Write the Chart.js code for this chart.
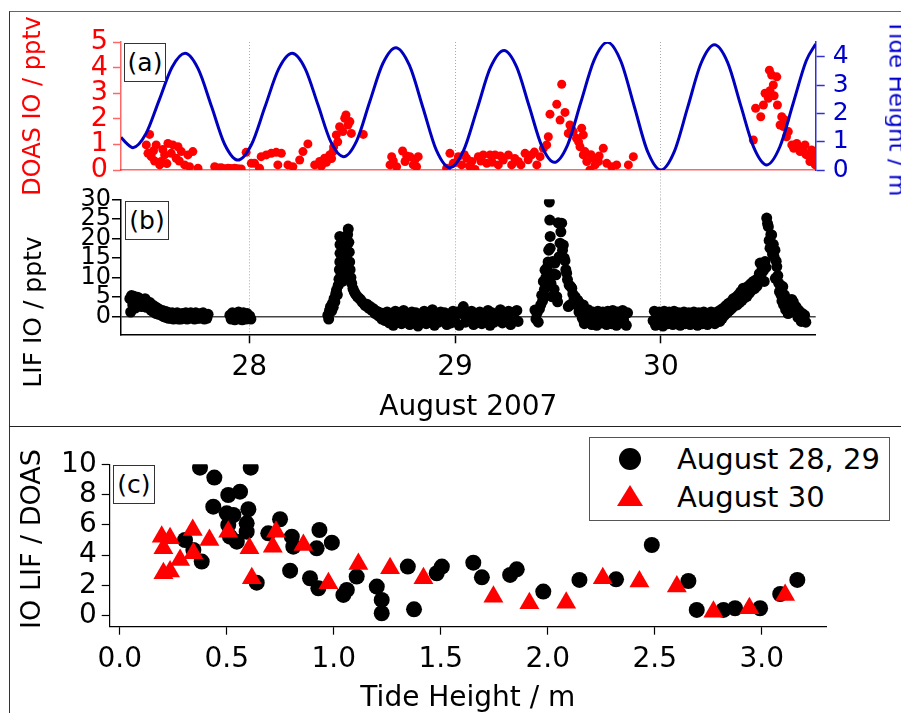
<!DOCTYPE html>
<html>
<head>
<meta charset="utf-8">
<title>IO tide</title>
<script src="https://cdn.jsdelivr.net/npm/chart.js@4.4.0/dist/chart.umd.min.js"></script>
<style>
    html, body { margin: 0; padding: 0; background: #fff; overflow: hidden; }
    #page { position: relative; width: 901px; height: 713px; overflow: hidden; font-family: "DejaVu Sans", sans-serif; }
    canvas.layer { position: absolute; left: 0; top: 0; }
    .frame { position: absolute; left: 9px; top: 11px; width: 900px; height: 710px; border-left: 1.5px solid #333; border-top: 1.5px solid #666; }
    .sep { position: absolute; left: 9px; top: 426px; width: 900px; border-top: 1.5px solid #222; }
    .tag { position: absolute; border: 1px solid #333; background: #fff; font-size: 25px; text-align: center; color: #000; }
    .axtitle { position: absolute; white-space: nowrap; line-height: 1; }
    .legend { position: absolute; border: 1px solid #555; background: #fff; }
    .legend span { position: absolute; }
    .legend .txt { font-size: 29px; line-height: 1; white-space: nowrap; color: #000; }
    .legend .dot { width: 22px; height: 22px; border-radius: 50%; background: #000; }
    .legend .tri { width: 0; height: 0; border-left: 13px solid transparent; border-right: 13px solid transparent; border-bottom: 21px solid #f00; }
</style>
</head>
<body>
<div id="page">
    <div class="frame"></div>
    <div class="sep"></div>
    <canvas id="chartA" class="layer" width="901" height="713"></canvas>
    <canvas id="chartB" class="layer" width="901" height="713"></canvas>
    <canvas id="chartC" class="layer" width="901" height="730"></canvas>

    <div class="axtitle" style="left:32px;top:106px;color:#f00;font-size:24px;transform:translate(-50%,-50%) rotate(-90deg);">DOAS IO / pptv</div>
    <div class="axtitle" style="left:897px;top:108px;color:#0000cc;font-size:23px;transform:translate(-50%,-50%) rotate(90deg);">Tide Height / m</div>
    <div class="axtitle" style="left:32px;top:312px;color:#000;font-size:25px;transform:translate(-50%,-50%) rotate(-90deg);">LIF IO / pptv</div>
    <div class="axtitle" style="left:30px;top:539px;color:#000;font-size:27px;transform:translate(-50%,-50%) rotate(-90deg);">IO LIF / DOAS</div>

    <div class="tag" style="left:124px;top:43px;width:40px;height:37px;line-height:37px;">(a)</div>
    <div class="tag" style="left:125px;top:201px;width:42px;height:37px;line-height:37px;">(b)</div>
    <div class="tag" style="left:113px;top:465px;width:40px;height:37px;line-height:37px;">(c)</div>

    <div class="legend" style="left:589px;top:437px;width:299px;height:82px;">
        <span class="dot" style="left:29px;top:10px;"></span>
        <span class="txt" style="left:87px;top:7px;">August 28, 29</span>
        <span class="tri" style="left:27px;top:47px;"></span>
        <span class="txt" style="left:87px;top:45px;">August 30</span>
    </div>
</div>

<script>
// ---- data ----
// days of August 2007 on the time axis
const dayTicks = [28, 29, 30];
const doasTicks = [0, 1, 2, 3, 4, 5];
const tideTicks = [0, 1, 2, 3, 4];
const lifTicks = [0, 5, 10, 15, 20, 25, 30];
const tideHeightTicks = [0, 0.5, 1, 1.5, 2, 2.5, 3];
const ratioTicks = [0, 2, 4, 6, 8, 10];

// tide height (m) vs day
const tidePoints = [
    [27.377, 1.16], [27.406, 0.93], [27.435, 0.79], [27.498, 1.28], [27.562, 2.46], [27.625, 3.63], [27.688, 4.12],
    [27.752, 3.57], [27.817, 2.24], [27.881, 0.90], [27.945, 0.35], [28.011, 0.90], [28.077, 2.24], [28.143, 3.57],
    [28.209, 4.12], [28.271, 3.59], [28.334, 2.30], [28.396, 1.00], [28.458, 0.47], [28.522, 1.03], [28.585, 2.40],
    [28.649, 3.76], [28.712, 4.32], [28.778, 3.70], [28.844, 2.20], [28.909, 0.70], [28.975, 0.08], [29.041, 0.68],
    [29.107, 2.15], [29.172, 3.62], [29.238, 4.22], [29.299, 3.64], [29.360, 2.25], [29.421, 0.85], [29.482, 0.27],
    [29.547, 0.89], [29.611, 2.39], [29.676, 3.89], [29.740, 4.51], [29.805, 3.85], [29.870, 2.26], [29.935, 0.66],
    [30.000, 0.00], [30.065, 0.65], [30.130, 2.21], [30.195, 3.77], [30.260, 4.42], [30.324, 3.80], [30.387, 2.30],
    [30.451, 0.80], [30.514, 0.18], [30.578, 0.82], [30.642, 2.34], [30.706, 3.86], [30.752, 4.45]
];

// DOAS IO (pptv) vs day
const doasPoints = [
    [27.500, 0.98], [27.508, 0.65], [27.516, 1.39], [27.524, 0.52], [27.535, 0.75], [27.540, 0.35], [27.548, 0.98],
    [27.565, 0.20], [27.572, 0.33], [27.580, 0.80], [27.589, 0.59], [27.600, 0.25], [27.605, 1.04], [27.621, 0.65],
    [27.629, 0.98], [27.645, 0.46], [27.654, 0.91], [27.660, 0.35], [27.670, 0.72], [27.686, 0.20], [27.702, 0.59],
    [27.710, 0.13], [27.726, 0.72], [27.751, 0.07], [27.832, 0.13], [27.850, 0.08], [27.864, 0.09], [27.880, 0.05],
    [27.897, 0.07], [27.910, 0.06], [27.929, 0.07], [27.945, 0.05], [27.961, 0.04], [27.985, 0.69], [28.010, 0.26],
    [28.026, 0.26], [28.050, 0.07], [28.058, 0.52], [28.083, 0.59], [28.107, 0.65], [28.131, 0.69], [28.139, 0.20],
    [28.156, 0.65], [28.188, 0.20], [28.212, 0.13], [28.245, 0.39], [28.261, 0.72], [28.285, 1.02], [28.318, 0.20],
    [28.342, 0.33], [28.350, 0.15], [28.366, 0.46], [28.375, 0.30], [28.391, 0.59], [28.400, 0.45], [28.407, 0.72],
    [28.410, 0.90], [28.423, 1.37], [28.430, 1.10], [28.439, 1.69], [28.455, 1.50], [28.464, 2.02], [28.470, 2.15],
    [28.480, 1.76], [28.489, 1.89], [28.496, 1.43], [28.554, 1.39], [28.684, 0.20], [28.692, 0.52], [28.700, 0.35],
    [28.716, 0.13], [28.745, 0.74], [28.757, 0.33], [28.765, 0.55], [28.781, 0.52], [28.797, 0.20], [28.805, 0.40],
    [28.813, 0.13], [28.821, 0.52], [28.959, 0.07], [28.975, 0.65], [28.991, 0.26], [29.005, 0.30], [29.016, 0.52],
    [29.032, 0.20], [29.045, 0.60], [29.056, 0.46], [29.070, 0.15], [29.081, 0.33], [29.097, 0.02], [29.113, 0.52],
    [29.125, 0.35], [29.137, 0.59], [29.154, 0.26], [29.170, 0.59], [29.180, 0.30], [29.194, 0.59], [29.210, 0.20],
    [29.220, 0.55], [29.234, 0.39], [29.259, 0.59], [29.275, 0.20], [29.290, 0.45], [29.307, 0.33], [29.320, 0.20],
    [29.340, 0.65], [29.355, 0.40], [29.372, 0.59], [29.385, 0.70], [29.397, 0.20], [29.413, 0.52], [29.429, 0.85],
    [29.445, 0.98], [29.453, 1.30], [29.461, 2.18], [29.494, 2.57], [29.510, 1.95], [29.518, 3.35], [29.534, 2.25],
    [29.550, 1.43], [29.558, 1.76], [29.565, 1.60], [29.574, 1.50], [29.590, 1.24], [29.600, 1.10], [29.607, 0.91],
    [29.615, 1.63], [29.623, 1.37], [29.623, 0.59], [29.631, 0.72], [29.640, 0.33], [29.655, 0.00], [29.660, 0.60],
    [29.672, 0.46], [29.680, 0.20], [29.696, 0.33], [29.700, 0.55], [29.720, 0.85], [29.737, 0.26], [29.761, 0.13],
    [29.785, 0.20], [29.842, 0.20], [29.866, 0.52], [30.449, 1.17], [30.460, 2.41], [30.485, 2.08], [30.498, 2.54],
    [30.506, 3.00], [30.522, 2.80], [30.527, 3.90], [30.530, 3.10], [30.538, 3.71], [30.546, 3.32], [30.550, 2.90],
    [30.563, 3.64], [30.566, 2.54], [30.579, 1.76], [30.587, 2.08], [30.595, 1.70], [30.603, 1.95], [30.610, 1.30],
    [30.619, 1.50], [30.636, 0.98], [30.645, 0.85], [30.660, 1.04], [30.665, 0.90], [30.676, 0.72], [30.690, 0.75],
    [30.700, 0.98], [30.705, 0.60], [30.716, 0.59], [30.724, 0.33], [30.732, 0.78], [30.741, 0.39], [30.745, 0.55],
    [30.750, 0.20], [30.757, 0.33]
];

// LIF IO (pptv) vs day
const lifPoints = [
    [27.420, 4.6], [27.424, 1.2], [27.428, 5.4], [27.434, 3.0], [27.440, 5.2], [27.446, 2.2], [27.452, 4.4], [27.458, 5.0],
    [27.464, 3.0], [27.470, 4.6], [27.476, 2.6], [27.482, 4.2], [27.488, 3.4], [27.494, 4.6], [27.500, 2.4], [27.506, 3.8],
    [27.512, 2.8], [27.518, 3.6], [27.524, 1.6], [27.530, 3.0], [27.536, 1.2], [27.542, 2.6], [27.548, 0.8], [27.554, 2.2],
    [27.560, 0.6], [27.566, 1.8], [27.572, 0.4], [27.578, 1.6], [27.584, 0.0], [27.590, 1.4], [27.596, -0.2], [27.602, 1.2],
    [27.608, -0.4], [27.614, 0.8], [27.620, -0.4], [27.626, 1.0], [27.632, -0.6], [27.638, 0.6], [27.644, -0.4], [27.650, 1.0],
    [27.656, -0.6], [27.662, 0.4], [27.668, -0.6], [27.674, 0.8], [27.680, -0.4], [27.686, 0.2], [27.692, 1.0], [27.698, -0.6],
    [27.704, 0.6], [27.710, -0.4], [27.716, 1.0], [27.722, -0.2], [27.728, 0.8], [27.734, -0.6], [27.740, 1.0], [27.746, -0.4],
    [27.752, 0.6], [27.758, -0.4], [27.764, 0.8], [27.770, -0.2], [27.776, 1.0], [27.782, -0.6], [27.788, 0.4], [27.794, -0.4],
    [27.800, 0.6],
    [27.906, 0.4], [27.912, -0.6], [27.918, 1.0], [27.924, 0.0], [27.930, -0.8], [27.936, 0.8], [27.942, -0.2], [27.948, 1.2],
    [27.954, -0.6], [27.960, 0.6], [27.966, -0.8], [27.972, 1.0], [27.978, 0.2], [27.984, -0.6], [27.990, 0.8], [27.996, -0.4],
    [28.002, 0.2], [28.008, -0.6],
    [28.382, 0.4], [28.386, -0.6], [28.390, 1.6], [28.395, 2.6], [28.400, 1.4], [28.404, 3.4], [28.408, 2.4], [28.412, 4.6],
    [28.416, 3.8], [28.420, 5.8], [28.424, 6.8], [28.428, 5.6], [28.432, 8.0], [28.436, 9.6], [28.438, 12.0], [28.440, 14.0],
    [28.441, 16.2], [28.441, 18.4], [28.440, 20.5], [28.446, 10.8], [28.452, 9.0], [28.458, 11.0], [28.464, 13.0], [28.468, 15.5],
    [28.472, 17.5], [28.474, 19.6], [28.478, 21.0], [28.481, 22.4], [28.484, 19.0], [28.486, 16.5], [28.488, 14.0], [28.490, 12.0],
    [28.494, 10.0], [28.498, 8.5], [28.504, 7.2], [28.510, 6.4], [28.516, 5.8], [28.524, 5.2], [28.532, 4.8], [28.540, 4.4],
    [28.548, 3.8], [28.556, 3.4], [28.564, 2.8], [28.572, 3.2], [28.580, 2.2], [28.588, 2.6], [28.596, 1.6], [28.604, 2.0],
    [28.612, 0.8], [28.620, 1.4], [28.628, 0.2], [28.636, 1.0], [28.644, -0.6], [28.652, 0.8],
    [28.660, -1.0], [28.670, 1.2], [28.680, -1.6], [28.690, 0.6], [28.700, -2.2], [28.710, 1.4], [28.720, -0.8], [28.730, 0.8],
    [28.740, -1.8], [28.750, 1.6], [28.760, -1.2], [28.770, 0.4], [28.780, -2.0], [28.790, 1.2], [28.800, -1.4], [28.810, 1.0],
    [28.820, -2.4], [28.830, 0.6], [28.840, -1.0], [28.850, 1.4], [28.860, -1.8], [28.870, 0.8], [28.880, -1.2], [28.890, 1.8],
    [28.900, -2.2], [28.910, 0.4], [28.920, -1.4], [28.930, 1.2], [28.940, -0.8], [28.950, 1.0], [28.960, -2.0], [28.970, 0.6],
    [28.980, -1.6], [28.990, 1.4], [29.000, -1.2], [29.010, 1.2], [29.020, -2.2], [29.030, 0.8], [29.040, 2.6], [29.050, -1.4],
    [29.060, 1.0], [29.070, -0.8], [29.080, 1.4], [29.090, -2.0], [29.100, 0.6], [29.110, -1.2], [29.120, 1.2], [29.130, -1.8],
    [29.140, 0.8], [29.150, -1.0], [29.160, 1.6], [29.170, -2.2], [29.180, 1.0], [29.190, -1.4], [29.200, 0.6], [29.210, -0.8],
    [29.220, 1.8], [29.230, -1.6], [29.240, 0.8], [29.250, -1.2], [29.260, 1.4], [29.270, -2.0], [29.280, 1.0], [29.290, -0.6],
    [29.300, 1.6], [29.306, -1.2],
    [29.388, 1.7], [29.393, -0.6], [29.398, 0.9], [29.404, -1.4], [29.410, 2.0], [29.416, 3.0], [29.421, 5.5], [29.425, 4.0],
    [29.429, 9.0], [29.431, 5.1], [29.434, 7.0], [29.437, 11.9], [29.441, 10.0], [29.445, 12.4], [29.449, 8.0], [29.452, 14.0],
    [29.455, 17.0], [29.458, 29.3], [29.460, 24.7], [29.462, 20.5], [29.462, 17.5], [29.466, 8.5], [29.470, 5.1], [29.474, 14.1],
    [29.477, 11.0], [29.481, 7.0], [29.485, 13.7], [29.490, 10.7], [29.494, 5.1], [29.498, 3.8], [29.501, 24.0], [29.505, 15.3],
    [29.510, 18.8], [29.514, 21.7], [29.518, 23.9], [29.522, 17.0], [29.526, 18.3], [29.530, 15.0], [29.534, 14.3], [29.538, 12.0],
    [29.542, 11.1], [29.546, 9.5], [29.550, 2.6], [29.554, 8.1], [29.558, 3.0], [29.562, 7.7], [29.567, 7.3], [29.572, 5.8],
    [29.578, 4.4], [29.583, 5.1], [29.590, 3.0], [29.596, 4.2], [29.602, 1.2], [29.607, 3.4], [29.612, 2.2], [29.618, -0.4],
    [29.623, 3.0], [29.628, -1.8], [29.634, 1.4], [29.640, -0.4], [29.646, 1.8], [29.652, -1.4], [29.658, 0.6], [29.664, -2.0],
    [29.670, 1.2], [29.676, -1.0], [29.682, 0.8], [29.688, -2.2], [29.694, 1.4], [29.700, -0.8], [29.706, 0.4], [29.712, -1.6],
    [29.718, 1.2], [29.724, -1.2], [29.730, 0.8], [29.736, -2.0], [29.742, 1.4], [29.748, -0.6], [29.754, 0.6], [29.760, -1.8],
    [29.766, 1.6], [29.772, -1.0], [29.778, 0.8], [29.784, -2.2], [29.790, 1.2], [29.796, -0.8], [29.802, 0.4], [29.808, -1.6],
    [29.814, 1.6], [29.820, -1.2], [29.826, 0.6], [29.832, -2.2], [29.838, 1.0],
    [29.962, -1.0], [29.968, 1.4], [29.974, -2.2], [29.980, 0.4], [29.986, -0.8], [29.992, 1.2], [29.998, -1.6], [30.004, 0.8],
    [30.010, -2.4], [30.016, 1.4], [30.022, -0.6], [30.028, 0.8], [30.034, -1.8], [30.040, 1.2], [30.046, -1.2], [30.052, 0.2],
    [30.058, -2.0], [30.064, 1.4], [30.070, -0.8], [30.076, 0.6], [30.082, -1.6], [30.088, 1.0], [30.094, -2.2], [30.100, 0.8],
    [30.106, -1.0], [30.112, 1.2], [30.118, -1.8], [30.124, 0.4], [30.130, -1.2], [30.136, 1.0], [30.142, -2.0], [30.148, 0.6],
    [30.154, -0.8], [30.160, 1.2], [30.166, -1.6], [30.172, 0.8], [30.178, -2.2], [30.184, 1.0], [30.190, -1.0], [30.196, 0.4],
    [30.202, -1.8], [30.208, 1.2], [30.214, -1.2], [30.220, 0.8], [30.226, -2.0], [30.232, 0.6], [30.238, -1.0], [30.244, 1.2],
    [30.250, -1.4], [30.256, 0.4], [30.262, -1.8], [30.268, 1.0], [30.274, -0.6], [30.280, 1.4], [30.286, -1.2], [30.292, 1.8],
    [30.298, -0.4], [30.304, 2.2], [30.310, 0.4],
    [30.316, 2.8], [30.322, 1.0], [30.328, 3.4], [30.334, 1.6], [30.340, 3.8], [30.346, 2.2], [30.352, 4.6], [30.358, 2.8],
    [30.364, 5.0], [30.370, 3.0], [30.376, 5.6], [30.382, 3.6], [30.388, 6.4], [30.394, 4.2], [30.400, 7.3], [30.406, 4.8],
    [30.412, 7.0], [30.418, 5.2], [30.424, 7.8], [30.430, 6.0], [30.436, 8.4], [30.442, 6.8], [30.449, 9.0], [30.455, 7.2],
    [30.461, 9.4], [30.467, 7.8], [30.473, 9.8], [30.478, 11.0], [30.482, 13.7], [30.486, 10.6], [30.492, 12.4], [30.498, 11.8],
    [30.502, 9.0], [30.506, 14.1], [30.510, 12.6], [30.514, 25.2], [30.518, 23.8], [30.522, 23.0], [30.526, 19.5], [30.530, 17.5],
    [30.534, 21.0], [30.538, 20.9], [30.542, 16.0], [30.546, 18.5], [30.550, 15.3], [30.554, 17.0], [30.556, 9.8], [30.560, 14.2],
    [30.563, 12.8], [30.568, 10.5], [30.572, 8.6], [30.576, 6.4], [30.579, 8.1], [30.584, 5.5], [30.588, 4.0], [30.592, 7.7],
    [30.596, 3.0], [30.600, 5.6], [30.606, 1.8], [30.612, 4.6], [30.618, 0.8], [30.624, 3.8], [30.630, 2.0], [30.636, 4.4],
    [30.643, 3.8], [30.650, 1.2], [30.656, 2.6], [30.660, 2.1], [30.666, -0.2], [30.670, 1.6], [30.676, 0.4], [30.682, -1.2],
    [30.688, 0.8], [30.692, -0.8], [30.698, 0.4], [30.704, -1.4]
];

// IO LIF / DOAS ratio vs tide height (m)
const ratioAug2829 = [
    [0.375, 9.78], [0.442, 9.12], [0.612, 9.78], [0.507, 7.97], [0.562, 8.19], [0.437, 7.20], [0.601, 7.03],
    [0.500, 6.76], [0.531, 6.65], [0.507, 5.99], [0.593, 6.10], [0.593, 5.55], [0.515, 5.22], [0.547, 4.89],
    [0.305, 5.00], [0.344, 4.34], [0.383, 3.57], [0.749, 6.37], [0.694, 5.44], [0.804, 5.22], [0.811, 4.56],
    [0.933, 5.66], [0.991, 4.82], [0.920, 4.45], [0.796, 2.97], [0.889, 2.47], [0.928, 1.81], [1.045, 1.37],
    [1.061, 1.70], [1.107, 2.58], [1.201, 1.92], [1.224, 1.04], [1.224, 0.16], [1.346, 3.24], [1.375, 0.42],
    [1.481, 2.80], [1.505, 3.24], [0.640, 2.18], [1.652, 3.50], [1.692, 2.53], [1.824, 2.69], [1.855, 3.06],
    [1.979, 1.59], [2.148, 2.36], [2.319, 2.40], [2.486, 4.67], [2.657, 2.29], [2.696, 0.38], [2.821, 0.38],
    [2.875, 0.49], [2.992, 0.49], [3.086, 1.43], [3.166, 2.36]
];
const ratioAug30 = [
    [0.196, 5.22], [0.235, 5.11], [0.204, 4.45], [0.204, 2.80], [0.235, 2.91], [0.282, 3.68], [0.341, 5.66],
    [0.344, 4.12], [0.419, 5.00], [0.507, 5.55], [0.606, 4.45], [0.617, 2.47], [0.730, 5.55], [0.715, 4.56],
    [0.858, 4.67], [0.975, 2.14], [1.115, 3.41], [1.263, 3.13], [1.419, 2.47], [1.746, 1.25], [1.914, 0.82],
    [2.086, 0.86], [2.257, 2.47], [2.428, 2.25], [2.603, 1.92], [2.774, 0.26], [2.942, 0.49], [3.109, 1.37]
];

const FONT = '"DejaVu Sans", sans-serif';
const toXY = pts => pts.map(p => ({ x: p[0], y: p[1] }));
const fixTicks = list => scale => { scale.ticks = list.map(v => ({ value: v })); };
const baseOptions = {
    responsive: false,
    animation: false,
    events: [],
    plugins: { legend: { display: false }, tooltip: { enabled: false } }
};

// ---- panel (a): DOAS IO and tide ----
new Chart(document.getElementById('chartA'), {
    type: 'scatter',
    data: {
        datasets: [
            {
                type: 'line',
                data: toXY(tidePoints),
                yAxisID: 'yTide',
                borderColor: '#0000bf',
                borderWidth: 3,
                pointRadius: 0,
                cubicInterpolationMode: 'monotone',
                fill: false
            },
            {
                data: toXY(doasPoints),
                yAxisID: 'y',
                backgroundColor: '#ff0000',
                borderWidth: 0,
                pointRadius: 4.5
            }
        ]
    },
    options: {
        ...baseOptions,
        // axis boxes are given fixed widths so the plot areas line up across panels
        layout: { padding: { left: 61, right: 25.3, top: 42, bottom: 513 } },
        scales: {
            x: {
                type: 'linear', min: 27.377, max: 30.752,
                afterFit: s => { s.height = 30; },
                afterBuildTicks: fixTicks(dayTicks),
                ticks: { display: false, autoSkip: false },
                grid: { color: '#aaa', lineWidth: 1, tickLength: 29, tickColor: '#aaa', tickBorderDash: [1, 2] },
                border: { color: 'rgba(255,0,0,0.6)', width: 1.5, dash: [1, 2] }
            },
            y: {
                type: 'linear', position: 'left', min: 0, max: 5,
                afterFit: s => { s.width = 60; },
                afterBuildTicks: fixTicks(doasTicks),
                ticks: { color: '#ff0000', font: { family: FONT, size: 27 }, padding: 5, autoSkip: false },
                grid: { drawOnChartArea: false, tickLength: 8, tickColor: 'rgba(255,0,0,0.6)', tickWidth: 1.5 },
                border: { color: 'rgba(255,0,0,0.6)', width: 1.5 }
            },
            yTide: {
                type: 'linear', position: 'right', min: 0, max: 4.52,
                afterFit: s => { s.width = 60; },
                afterBuildTicks: fixTicks(tideTicks),
                ticks: { color: '#0000cc', font: { family: FONT, size: 25 }, padding: 8, autoSkip: false },
                grid: { drawOnChartArea: false, tickLength: 9, tickColor: '#3030d0', tickWidth: 1.5 },
                border: { color: '#3030d0', width: 1.5 }
            }
        }
    }
});

// ---- panel (b): LIF IO ----
new Chart(document.getElementById('chartB'), {
    type: 'scatter',
    data: {
        datasets: [{
            data: toXY(lifPoints),
            backgroundColor: '#000',
            borderWidth: 0,
            pointRadius: 5.5
        }]
    },
    options: {
        ...baseOptions,
        layout: { padding: { left: 51, right: 85.3, top: 199.3, bottom: 288.7 } },
        scales: {
            x: {
                type: 'linear', min: 27.377, max: 30.752,
                afterFit: s => { s.height = 90; },
                afterBuildTicks: fixTicks(dayTicks),
                ticks: { color: '#000', font: { family: FONT, size: 28 }, padding: 8, autoSkip: false },
                grid: { color: '#aaa', lineWidth: 1, tickLength: 9, tickColor: '#000', tickWidth: 1.5 },
                border: { color: '#000', width: 1.5, dash: [1, 2] },
                title: { display: true, text: 'August 2007', color: '#000', font: { family: FONT, size: 28 }, padding: 0 }
            },
            y: {
                type: 'linear', min: -4.5, max: 30,
                afterFit: s => { s.width = 70; },
                afterBuildTicks: fixTicks(lifTicks),
                ticks: { color: '#000', font: { family: FONT, size: 24 }, padding: 1, autoSkip: false },
                grid: {
                    color: c => (c.tick && c.tick.value === 0 ? '#444' : 'rgba(0,0,0,0)'),
                    lineWidth: 1.5, tickLength: 9, tickColor: '#000', tickWidth: 1.5
                },
                border: { color: '#000', width: 1.5 }
            }
        }
    }
});

// ---- panel (c): ratio vs tide height ----
new Chart(document.getElementById('chartC'), {
    type: 'scatter',
    data: {
        datasets: [
            {
                label: 'August 30',
                data: toXY(ratioAug30),
                pointStyle: 'triangle',
                backgroundColor: '#ff0000',
                borderWidth: 0,
                pointRadius: 11.5
            },
            {
                label: 'August 28, 29',
                data: toXY(ratioAug2829),
                pointStyle: 'circle',
                backgroundColor: '#000',
                borderWidth: 0,
                pointRadius: 8
            }
        ]
    },
    options: {
        ...baseOptions,
        layout: { padding: { left: 29.7, right: 75, top: 464.3, bottom: 14.9 } },
        scales: {
            x: {
                type: 'linear', min: -0.047, max: 3.30,
                afterFit: s => { s.height = 88.4; },
                afterBuildTicks: fixTicks(tideHeightTicks),
                ticks: { color: '#000', font: { family: FONT, size: 28 }, padding: 8, autoSkip: false, callback: v => v.toFixed(1) },
                grid: { drawOnChartArea: false, tickLength: 8, tickColor: '#000', tickWidth: 1.2 },
                border: { color: '#000', width: 1.2 },
                title: { display: true, text: 'Tide Height / m', color: '#000', font: { family: FONT, size: 28 }, padding: 0 }
            },
            y: {
                type: 'linear', min: -0.73, max: 10,
                afterFit: s => { s.width = 80; },
                afterBuildTicks: fixTicks(ratioTicks),
                ticks: { color: '#000', font: { family: FONT, size: 28 }, padding: 5, autoSkip: false, callback: v => String(v) },
                grid: { drawOnChartArea: false, tickLength: 8, tickColor: '#000', tickWidth: 1.2 },
                border: { color: '#000', width: 1.2 }
            }
        }
    }
});
</script>
</body>
</html>
